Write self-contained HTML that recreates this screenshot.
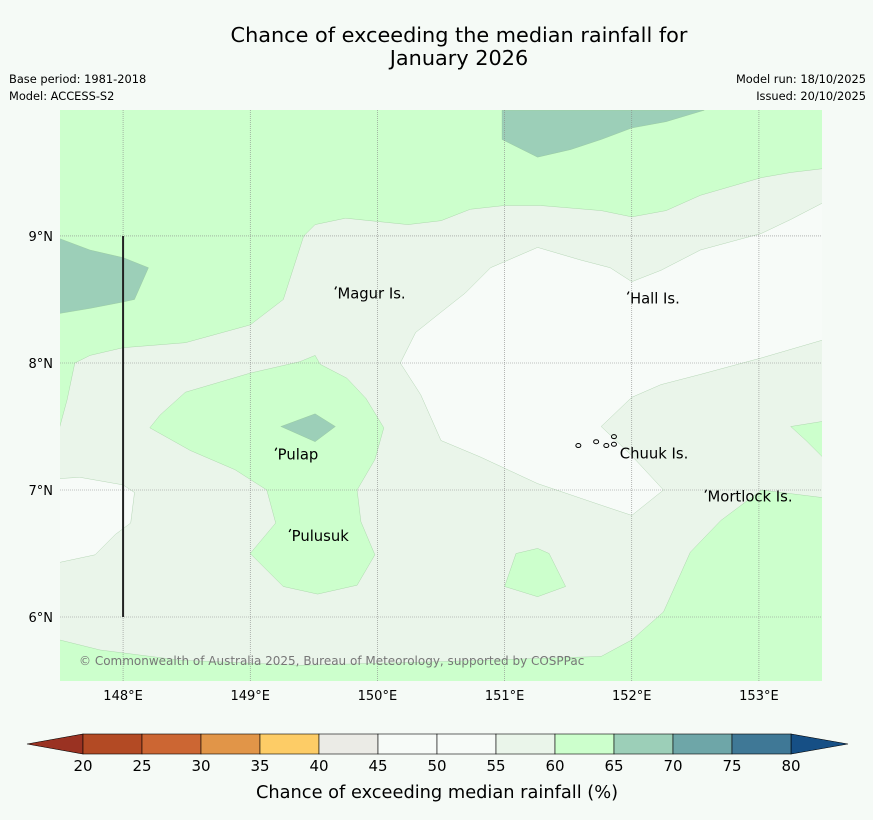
<!DOCTYPE html>
<html><head><meta charset="utf-8">
<style>
html,body{margin:0;padding:0;background:#f5faf6;}
body{width:873px;height:816px;overflow:hidden;font-family:"DejaVu Sans","Liberation Sans",sans-serif;}
svg text{font-family:"DejaVu Sans","Liberation Sans",sans-serif;}
</style></head>
<body>
<svg id="chart" width="873" height="816" xmlns="http://www.w3.org/2000/svg">
<text x="459" y="42" font-size="20.8" text-anchor="middle" fill="#000">Chance of exceeding the median rainfall for</text>
<text x="459" y="65" font-size="20.8" text-anchor="middle" fill="#000">January 2026</text>
<text x="9" y="83" font-size="11.4">Base period: 1981-2018</text>
<text x="9" y="100" font-size="11.4">Model: ACCESS-S2</text>
<text x="866" y="83" font-size="11.4" text-anchor="end">Model run: 18/10/2025</text>
<text x="866" y="100" font-size="11.4" text-anchor="end">Issued: 20/10/2025</text>
<g id="map"></g>
<g id="cbar"></g>
<text x="437" y="798" font-size="17.8" text-anchor="middle">Chance of exceeding median rainfall (%)</text>
</svg>
<script>
const lonTicks=[148,149,150,151,152,153];
const latTicks=[6,7,8,9];
const cbarBounds=[20,25,30,35,40,45,50,55,60,65,70,75,80];
const cbarColors=["#b34a24","#cc6633","#e19548","#fdcc66","#ebebe6","#f7fbf8","#f7fbf8","#eaf5ea","#ccffcc","#9ccfb8","#6ea6a8","#3f7896"];
const contourFill={"55":"#eaf5ea","50":"#f7fbf8","60":"#ccffcc","65":"#9ccfb8"};
const palePoly=[[147.50,7.49],[147.56,7.71],[147.62,8.00],[147.74,8.06],[148.00,8.12],[148.49,8.16],[149.00,8.30],[149.26,8.50],[149.42,9.00],[149.51,9.09],[149.75,9.14],[150.24,9.09],[150.50,9.12],[150.73,9.21],[151.00,9.24],[151.28,9.24],[151.76,9.20],[152.00,9.15],[152.27,9.20],[152.54,9.32],[153.02,9.46],[153.25,9.50],[153.50,9.53],[153.50,6.94],[153.02,7.00],[152.70,6.76],[152.46,6.51],[152.25,6.04],[152.00,5.82],[151.76,5.69],[150.57,5.65],[149.39,5.62],[148.45,5.66],[147.82,5.74],[147.50,5.82]];
const whitePoly=[[150.18,8.00],[150.30,8.24],[150.50,8.40],[150.69,8.55],[150.89,8.75],[151.26,8.91],[151.60,8.81],[151.83,8.75],[152.00,8.64],[152.23,8.73],[152.54,8.89],[153.02,9.02],[153.25,9.13],[153.50,9.26],[153.50,8.18],[153.02,8.04],[152.54,7.91],[152.23,7.83],[152.00,7.73],[151.76,7.50],[151.99,7.28],[152.25,7.00],[152.00,6.80],[151.76,6.88],[151.26,7.05],[150.81,7.26],[150.50,7.39],[150.34,7.75]];
const whiteWest=[[147.50,7.09],[147.66,7.10],[148.00,7.04],[148.09,6.98],[148.06,6.74],[147.94,6.65],[147.78,6.49],[147.50,6.43]];
const greenBlob=[[148.21,7.49],[148.29,7.59],[148.49,7.77],[149.00,7.92],[149.39,8.01],[149.51,8.06],[149.55,7.99],[149.76,7.88],[149.91,7.72],[150.05,7.49],[149.98,7.24],[149.84,7.00],[149.87,6.75],[149.98,6.49],[149.84,6.25],[149.53,6.18],[149.26,6.24],[149.00,6.50],[149.20,6.74],[149.13,7.00],[148.88,7.16],[148.53,7.31]];
const greenSmall=[[151.00,6.24],[151.09,6.50],[151.26,6.54],[151.35,6.50],[151.48,6.24],[151.26,6.16]];
const greenRight=[[153.25,7.50],[153.50,7.54],[153.50,7.26],[153.37,7.39]];
const tealCenter=[[149.24,7.50],[149.51,7.60],[149.67,7.50],[149.51,7.38]];
const tealTop=[[150.98,9.99],[150.98,9.76],[151.26,9.62],[151.52,9.68],[151.76,9.76],[152.00,9.85],[152.27,9.90],[152.57,9.99]];
const tealWest=[[147.50,8.98],[147.74,8.89],[148.00,8.83],[148.20,8.75],[148.09,8.50],[148.00,8.48],[147.74,8.43],[147.50,8.39]];
const places=[["Magur Is.",149.67,8.54,1],["Hall Is.",151.97,8.50,1],["Pulap",149.20,7.27,1],["Pulusuk",149.31,6.63,1],["Chuuk Is.",151.89,7.28,0],["Mortlock Is.",152.58,6.94,1]];
const chuukIslands=[[151.58,7.35],[151.72,7.38],[151.80,7.35],[151.86,7.42],[151.86,7.36]];
const lonMin=147.504,lonMax=153.496,latMin=5.496,latMax=9.992;
const X0=60,X1=822,Y0=110,Y1=681;
const xs=l=>X0+(l-lonMin)/(lonMax-lonMin)*(X1-X0);
const ys=l=>Y1-(l-latMin)/(latMax-latMin)*(Y1-Y0);
const NS="http://www.w3.org/2000/svg";
const map=document.getElementById('map');
function mk(tag,attrs,parent){const e=document.createElementNS(NS,tag);for(const k in attrs)e.setAttribute(k,attrs[k]);parent.appendChild(e);return e;}
const clip=mk('clipPath',{id:'mc'},map);mk('rect',{x:X0,y:Y0,width:X1-X0,height:Y1-Y0},clip);
const bg=mk('rect',{x:X0,y:Y0,width:X1-X0,height:Y1-Y0,fill:contourFill["60"]},map);


const g=mk('g',{'clip-path':'url(#mc)'},map);
function poly(pts,fill,name){const p=mk('polygon',{points:pts.map(q=>xs(q[0]).toFixed(1)+','+ys(q[1]).toFixed(1)).join(' '),fill:fill,stroke:'#8fbf8f','stroke-width':0.5,'stroke-opacity':0.6},g);

}
poly(palePoly,contourFill["55"],'contour-55-60');
poly(whitePoly,contourFill["50"],'contour-50-55');
poly(whiteWest,contourFill["50"],'contour-50-55-west');
poly(greenBlob,contourFill["60"],'contour-60-65-central');
poly(greenSmall,contourFill["60"],'contour-60-65-small');
poly(greenRight,contourFill["60"],'contour-60-65-east');
poly(tealCenter,contourFill["65"],'contour-65-70-central');
poly(tealTop,contourFill["65"],'contour-65-70-north');
poly(tealWest,contourFill["65"],'contour-65-70-west');
lonTicks.forEach(l=>{const ln=mk('line',{x1:xs(l),x2:xs(l),y1:Y0,y2:Y1,stroke:'#888','stroke-width':0.6,'stroke-dasharray':'1,1'},g);


const t=mk('text',{x:xs(l),y:Y1+19,'font-size':13,'text-anchor':'middle'},map);t.textContent=l+'°E';

});
latTicks.forEach(l=>{const ln=mk('line',{x1:X0,x2:X1,y1:ys(l),y2:ys(l),stroke:'#888','stroke-width':0.6,'stroke-dasharray':'1,1'},g);


const t=mk('text',{x:X0-7,y:ys(l)+5,'font-size':13,'text-anchor':'end'},map);t.textContent=l+'°N';

});
const vl=mk('line',{x1:xs(148),x2:xs(148),y1:ys(9),y2:ys(6),stroke:'#222','stroke-width':2},g);


places.forEach(p=>{const t=mk('text',{x:xs(p[1])+2,y:ys(p[2])+4,'font-size':14.8},g);t.textContent=p[0];


if(p[3]){const m=mk('path',{d:'M'+(xs(p[1])+1)+','+(ys(p[2])-8)+' l-1.5,3',stroke:'#000','stroke-width':1.3,fill:'none'},g);

}});
chuukIslands.forEach(c=>{const e=mk('ellipse',{cx:xs(c[0]),cy:ys(c[1]),rx:2.5,ry:2,fill:'none',stroke:'#000','stroke-width':1},g);

});
const cp=mk('text',{x:79,y:665,'font-size':12,fill:'#777'},map);cp.textContent='© Commonwealth of Australia 2025, Bureau of Meteorology, supported by COSPPac';


const cb=document.getElementById('cbar');
const C0=83,C1=791,CY=734,CH=20;
const cx=v=>C0+(v-20)/60*(C1-C0);
const lt=mk('polygon',{points:`${C0},${CY} ${C0},${CY+CH} 27,${CY+CH/2}`,fill:'#9a3222',stroke:'#000','stroke-width':0.6},cb);


const rt=mk('polygon',{points:`${C1},${CY} ${C1},${CY+CH} 848,${CY+CH/2}`,fill:'#164f85',stroke:'#000','stroke-width':0.6},cb);


cbarColors.forEach((c,i)=>{const r=mk('rect',{x:cx(cbarBounds[i]),y:CY,width:cx(cbarBounds[i+1])-cx(cbarBounds[i]),height:CH,fill:c,stroke:'#000','stroke-width':0.6},cb);

});
cbarBounds.forEach(b=>{const t=mk('text',{x:cx(b),y:771,'font-size':15,'text-anchor':'middle'},cb);t.textContent=b;

});
</script>
</body></html>
